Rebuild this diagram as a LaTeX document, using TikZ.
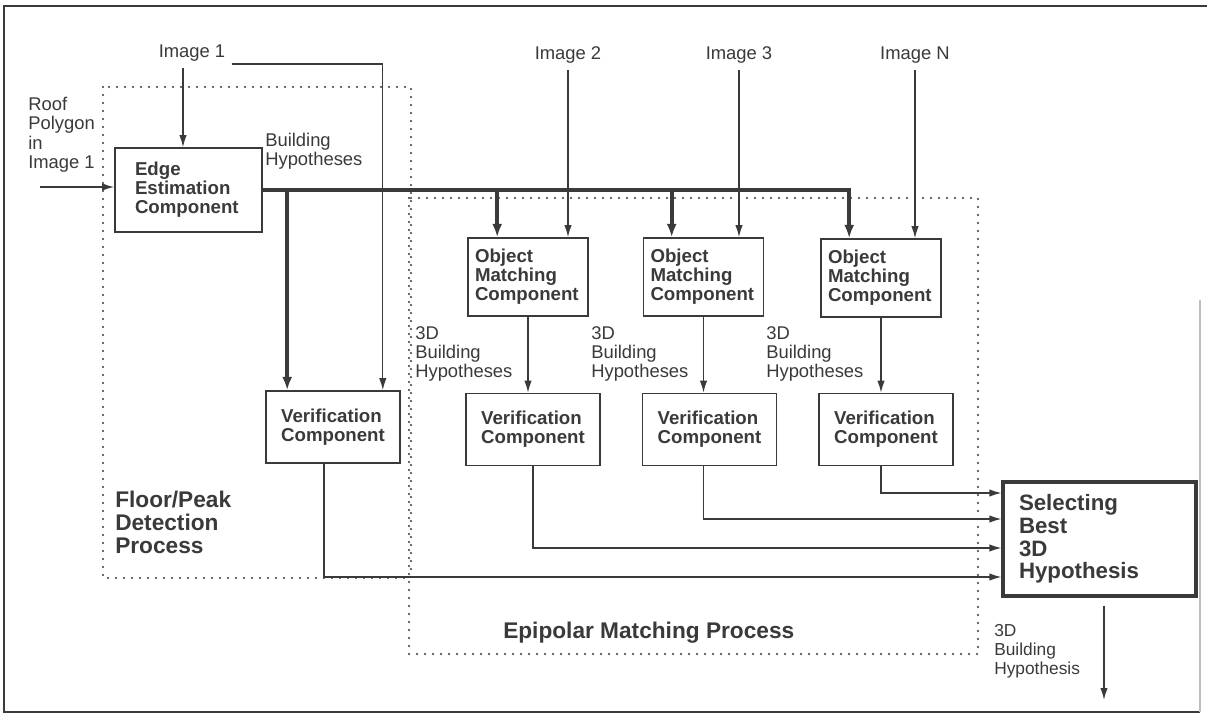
\documentclass[tikz,border=0pt]{standalone}
\usepackage{fontspec}
\setmainfont{Liberation Sans}
\usetikzlibrary{arrows.meta,calc}
\definecolor{ink}{HTML}{3A3A3A}
\begin{document}
\begin{tikzpicture}[x=0.75pt,y=-0.75pt,
  ln/.style={draw=ink,line width=1pt},
  arr/.style={ln,-{Latex[length=9pt,width=5.5pt]}},
  thk/.style={draw=ink,line width=3pt},
  tarr/.style={thk,line join=miter,-{Latex[length=10pt,width=7.5pt]}},
  box/.style={draw=ink,line width=1.2pt,text=ink,font=\fontsize{14}{14.3}\selectfont\bfseries,align=left,inner ysep=0pt},
  verbox/.style={box,minimum width=100.5pt,minimum height=54pt},
  ombox/.style={box,minimum width=90pt,minimum height=58.5pt,inner xsep=5.25pt,text width=79.5pt},
  lbl/.style={text=ink,font=\fontsize{13.8}{14.5}\selectfont,align=left,inner sep=0pt},
  proc/.style={text=ink,font=\fontsize{17}{17.3}\selectfont\bfseries,align=left,inner sep=0pt},
  dotbox/.style={draw=ink,line width=1.6pt,dash pattern=on 0pt off 6pt,line cap=round}
]
\fill[white] (0,0) rectangle (1207,714);
\useasboundingbox (0,0) rectangle (1207,714);
% frame
\draw[draw=ink,line width=1.4pt] (1207,6) -- (4,6) -- (4,712) -- (1200,712);
\draw[draw=black!25,line width=0.8pt] (1200,300) -- (1200,712);

% process regions
\draw[dotbox] (103,87) rectangle (411,578);
\draw[dotbox] (409,198) rectangle (978,654);

% boxes
\node[box,minimum width=110.25pt,minimum height=63pt,inner xsep=15pt,text width=80.25pt] (edge) at (188.5,190) {Edge\\Estimation\\Component};
\node[ombox] (om1) at (528,277) {Object\\Matching\\Component};
\node[ombox] (om2) at (703.5,277) {Object\\Matching\\Component};
\node[ombox] (om3) at (881,278) {Object\\Matching\\Component};
\node[verbox] (ver1) at (333,427) {Verification\\Component};
\node[verbox] (ver2) at (533,429.5) {Verification\\Component};
\node[verbox] (ver3) at (709.5,429.5) {Verification\\Component};
\node[verbox] (ver4) at (886,429.5) {Verification\\Component};
\node[draw=ink,line width=2.3pt,text=ink,font=\fontsize{16.7}{16.9}\selectfont\bfseries,align=left,
      minimum width=144.75pt,minimum height=85.5pt,inner xsep=12pt,inner ysep=0pt,text width=120.75pt]
      (sel) at (1099.5,539) {Selecting\\Best\\3D\\Hypothesis};

% labels
\node[lbl,anchor=north west] (roof) at (28,97) {Roof\\Polygon\\in\\Image 1};
\node[lbl] (img1) at (192,53) {Image 1};
\node[lbl] (img2) at (568,55) {Image 2};
\node[lbl] (img3) at (739,55) {Image 3};
\node[lbl] (imgN) at (915,55) {Image N};
\node[lbl,anchor=north west] (bh) at (265,133) {Building\\Hypotheses};
\node[lbl,anchor=north west] (h1) at (415,326) {3D\\Building\\Hypotheses};
\node[lbl,anchor=north west] (h2) at (591,326) {3D\\Building\\Hypotheses};
\node[lbl,anchor=north west] (h3) at (766,326) {3D\\Building\\Hypotheses};
\node[proc,anchor=north west] (fp) at (115,491) {Floor/Peak\\Detection\\Process};
\node[proc,anchor=west] (ep) at (503,633) {Epipolar Matching Process};
\node[lbl,font=\fontsize{13}{14.3}\selectfont,anchor=north west] (out) at (994,624) {3D\\Building\\Hypothesis};

% coordinates
\coordinate (b0) at ($(ver1.north west)+(22,0)$);
\coordinate (b1) at ($(om1.north west)+(30,0)$);
\coordinate (b2) at ($(om2.north west)+(29,0)$);
\coordinate (b3) at ($(om3.north west)+(29,0)$);
\coordinate (v1b) at ($(ver1.north east)+(-18,0)$);
\coordinate (i1a) at ($(img1.south)+(-9,6)$);
\coordinate (i1b) at ($(img1.east)+(6,11)$);
\coordinate (rf) at (40,187);
\coordinate (o) at (1104,700);

% input arrows
\draw[arr] (rf) -- (rf -| edge.west);
\draw[arr] (i1a) -- (i1a |- edge.north);
\draw[arr] (i1b) -| (v1b);
\draw[arr] ([yshift=-5pt]img2.south) -- (img2.south |- om1.north);
\draw[arr] ([yshift=-5pt]img3.south) -- (img3.south |- om2.north);
\draw[arr] ([yshift=-5pt]imgN.south) -- (imgN.south |- om3.north);

% building hypotheses bus
\draw[tarr] (edge.east) -| (b3);
\draw[tarr] (edge.east -| b0) -- (b0);
\draw[tarr] (edge.east -| b1) -- (b1);
\draw[tarr] (edge.east -| b2) -- (b2);

% matching to verification
\draw[arr] (om1.south) -- (om1.south |- ver2.north);
\draw[arr] (om2.south) -- (om2.south |- ver3.north);
\draw[arr] (om3.south) -- (om3.south |- ver4.north);

% verification to selecting
\draw[arr] (om3.south |- ver4.south) |- ([yshift=34.5pt]sel.west);
\draw[arr] (om2.south |- ver3.south) |- ([yshift=15pt]sel.west);
\draw[arr] (ver2.south) |- ([yshift=-6.75pt]sel.west);
\draw[arr] ($(ver1.south)+(-9,0)$) |- ([yshift=-28.5pt]sel.west);

% output
\draw[arr] ($(o |- sel.south)+(0,8)$) -- (o);
\end{tikzpicture}
\end{document}
